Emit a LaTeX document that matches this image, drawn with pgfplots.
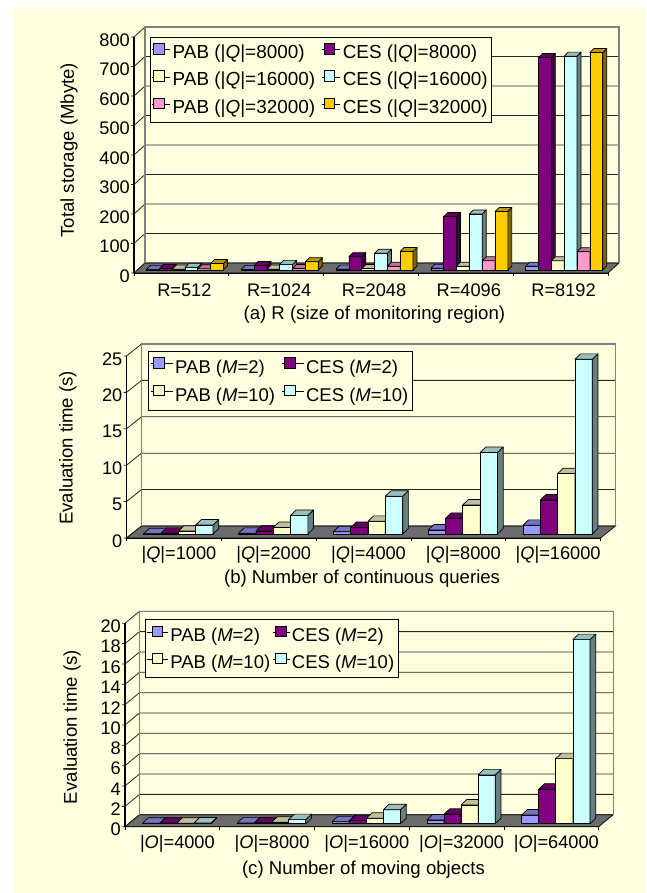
\documentclass[border=0pt]{standalone}
\usepackage{fontspec}
\setmainfont{Liberation Sans}
\usepackage{pgfplots}
\usepackage{pgfplotstable}
\pgfplotsset{compat=1.18}
\definecolor{bgc}{HTML}{FFFFE0}
\definecolor{cblue}{HTML}{9999FF}
\definecolor{cpurple}{HTML}{800080}
\definecolor{ccream}{HTML}{FFFFCC}
\definecolor{ccyan}{HTML}{CCFFFF}
\definecolor{cpink}{HTML}{FF99CC}
\definecolor{cgold}{HTML}{FFCC00}
\newcommand\lab{\fontsize{18.2}{21}\selectfont}
\newcommand\capt{\fontsize{18.6}{21}\selectfont}
\newcommand\lega{\fontsize{18.9}{21}\selectfont}
\newcommand\legb{\fontsize{18.5}{21}\selectfont}
\pgfplotstableread{
x PQa CQa PQb CQb PQc CQc
1 2 5 3 9 4 22
2 2 15 3 19 5 28
3 3 45 5 57 13 63
4 6 181 13 190 31 198
5 13 720 31 725 62 737
}\tblA
\pgfplotstableread{
x PM CM PT CT
1 0.05 0.1 0.4 1.24
2 0.1 0.4 0.9 2.56
3 0.32 0.9 1.75 5.2
4 0.55 2.15 4.0 11.2
5 1.2 4.67 8.3 24.0
}\tblB
\pgfplotstableread{
x PM CM PT CT
1 0.05 0.05 0.05 0.06
2 0.08 0.1 0.15 0.4
3 0.2 0.3 0.53 1.38
4 0.36 0.92 1.84 4.8
5 0.85 3.4 6.4 18.1
}\tblC
\newcommand\BarFaces[5]{%
  \pgfmathsetmacro\xL{#1+((#2-(\nk+1)/2-0.5)*\bw+\ox)/\catw}%
  \pgfmathsetmacro\xR{\xL+\bw/\catw}%
  \pgfmathsetmacro\xLd{\xL+\dpx/\catw}%
  \pgfmathsetmacro\xRd{\xR+\dpx/\catw}%
  \pgfmathsetmacro\yB{\oy/\yu}%
  \pgfmathsetmacro\yBd{\yB+\dpy/\yu}%
  \pgfmathsetmacro\yT{#3+\yB}%
  \pgfmathsetmacro\yTd{\yT+\dpy/\yu}%
  \edef\tmp{\noexpand\addplot[forget plot,fill=#5,draw=black,line width=.7pt,mark=none,line join=round] coordinates {(\xR,\yB)(\xRd,\yBd)(\xRd,\yTd)(\xR,\yT)} --cycle;}\tmp
  \edef\tmp{\noexpand\addplot[forget plot,fill=#4,draw=black,line width=.7pt,mark=none,line join=round] coordinates {(\xL,\yT)(\xR,\yT)(\xRd,\yTd)(\xLd,\yTd)} --cycle;}\tmp
}
% #1 table, #2 column, #3 index, #4 colour, #5 swatch offset, #6 swatch cell width
\newcommand\Series[6]{%
  \pgfmathsetmacro\bs{(#3-(\nk+1)/2)*\bw+\ox}%
  \pgfmathsetmacro\lgx{#5+10.5}%
  \edef\tmp{\noexpand\addplot[ybar,bar width=\bw pt,bar shift=\bs pt,yshift=\oy pt,fill=#4,draw=black,line width=.7pt,
     legend image code/.code={\noexpand\path (0pt,0pt) -- (#6pt,0pt);\noexpand\draw[fill=#4,draw=black,line width=.8pt] (#5pt,-4.5pt) rectangle (\lgx pt,6pt);}]
     table[x=x,y=#2] {\noexpand#1};}\tmp
  \foreach \r in {0,...,4}{%
    \pgfplotstablegetelem{\r}{#2}\of#1%
    \pgfmathtruncatemacro\ii{\r+1}%
    \edef\vv{\pgfplotsretval}%
    \BarFaces{\ii}{#3}{\vv}{#4!75!black}{#4!50!black}%
  }%
}
\newcommand\Frame[5]{% ymax, tick list, back dx, back dy, width
  \fill[bgc] (axis cs:0.5,0) ++(#3pt,#4pt) rectangle ++(#5pt,\hgt pt);
  \fill[gray!85!black,draw=black,line width=.7pt] (axis cs:0.5,0) -- ++(#5pt,0pt) -- ++(#3pt,#4pt) -- ++(-#5pt,0pt) -- cycle;
  \pgfplotsinvokeforeach{#2}{%
    \draw[black!85,line width=.8pt] (axis cs:0.5,##1) ++(-3pt,0pt) -- ++(3pt,0pt) -- ++(#3pt,#4pt) -- ++(#5pt,0pt);
  }
  \draw[gray,line width=1.1pt] (axis cs:0.5,0) ++(#3pt,#4pt) -- ++(0pt,\hgt pt) -- ++(#5pt,0pt) -- ++(0pt,-\hgt pt);
  \draw[black,line width=1.2pt] (axis cs:0.5,0) -- ++(0pt,\hgt pt);
}
\pgfplotsset{
  panel/.style={
    scale only axis, clip=false,
    xmin=0.5,xmax=5.5,ymin=0,
    axis x line*=bottom, axis y line*=left,
    axis line style={line width=1.1pt,-},
    tick align=outside,
    major tick length=0pt, minor tick length=3pt,
    tick style={black,line width=.8pt},
    xtick={1,2,3,4,5},
    minor xtick={0.5,1.5,2.5,3.5,4.5,5.5},
    tick label style={font=\lab},
    label style={font=\capt},
    /pgf/number format/assume math mode=true,
    yticklabel style={inner sep=0pt,xshift=-4pt,yshift=-3pt},
    legend style={anchor=north west,fill=bgc,draw=black,line width=.8pt,font=\legb,
      legend columns=2,legend cell align=left,inner xsep=2pt,inner ysep=6pt,
      nodes={inner sep=2pt}},
  },
}
\begin{document}
\begin{tikzpicture}[x=1pt,y=1pt]
\useasboundingbox (0,0) rectangle (646,893);
\fill[white] (0,0) rectangle (646,893);
\fill[bgc] (13,0) rectangle (646,886);
% ---------- (a)
\def\nk{6}\def\bw{12.83}\def\catw{94.8}\def\ox{3.6}\def\oy{3}\def\dpx{4}\def\dpy{4}\def\yu{0.295}\def\hgt{236}
\begin{axis}[panel,at={(134pt,620pt)},anchor=south west,width=474pt,height=236pt,
  ymax=800,ytick={0,100,...,800},
  xticklabel style={inner sep=0pt,yshift=-11pt,xshift=3pt},
  xticklabels={R=512,R=1024,R=2048,R=4096,R=8192},
  xlabel={(a) R (size of monitoring region)},
  ylabel={Total storage (Mbyte)},
  xlabel style={at={(axis description cs:0.507,-0.178)},anchor=center},
  ylabel style={at={(axis description cs:-0.137,0.52)},anchor=center},
  legend style={at={(axis description cs:0.033,1.0013)},font=\lega,
    /tikz/every even column/.append style={column sep=5pt},
    row sep=8pt},
  legend entries={{PAB (|\textit{Q}|=8000)},{CES (|\textit{Q}|=8000)},{PAB (|\textit{Q}|=16000)},{CES (|\textit{Q}|=16000)},{PAB (|\textit{Q}|=32000)},{CES (|\textit{Q}|=32000)}},
]
\Frame{800}{0,100,200,300,400,500,600,700,800}{11}{10}{474}
\Series{\tblA}{PQa}{1}{cblue}{1.5}{18}
\Series{\tblA}{CQa}{2}{cpurple}{1.5}{18}
\Series{\tblA}{PQb}{3}{ccream}{1.5}{18}
\Series{\tblA}{CQb}{4}{ccyan}{1.5}{18}
\Series{\tblA}{PQc}{5}{cpink}{1.5}{18}
\Series{\tblA}{CQc}{6}{cgold}{1.5}{18}
\end{axis}
% ---------- (b)
\def\nk{4}\def\bw{17.33}\def\catw{94.8}\def\ox{4.5}\def\oy{4}\def\dpx{5.7}\def\dpy{5.4}\def\yu{7.28}\def\hgt{182}
\begin{axis}[panel,at={(126.5pt,355pt)},anchor=south west,width=474pt,height=182pt,
  ymax=25,ytick={0,5,...,25},
  xticklabel style={inner sep=0pt,yshift=-8pt,xshift=5pt},
  xticklabels={{|\textit{Q}|=1000},{|\textit{Q}|=2000},{|\textit{Q}|=4000},{|\textit{Q}|=8000},{|\textit{Q}|=16000}},
  xlabel={(b) Number of continuous queries},
  ylabel={Evaluation time (s)},
  xlabel style={at={(axis description cs:0.497,-0.225)},anchor=center},
  ylabel style={at={(axis description cs:-0.124,0.495)},anchor=center},
  legend style={at={(axis description cs:0.0456,1.029)},
    /tikz/every even column/.append style={column sep=4.3pt},
    row sep=8pt},
  legend entries={{PAB (\textit{M}=2)},{CES (\textit{M}=2)},{PAB (\textit{M}=10)},{CES (\textit{M}=10)\hspace{8pt}}},
]
\Frame{25}{0,5,10,15,20,25}{15}{12}{474}
\Series{\tblB}{PM}{1}{cblue}{2.7}{22}
\Series{\tblB}{CM}{2}{cpurple}{2.7}{22}
\Series{\tblB}{PT}{3}{ccream}{2.7}{22}
\Series{\tblB}{CT}{4}{ccyan}{2.7}{22}
\end{axis}
% ---------- (c)
\def\nk{4}\def\bw{17.08}\def\catw{94.74}\def\ox{4.5}\def\oy{3}\def\dpx{5.7}\def\dpy{5.5}\def\yu{10.17}\def\hgt{203.4}
\begin{axis}[panel,at={(125pt,66.3pt)},anchor=south west,width=473.7pt,height=203.4pt,
  ymax=20,ytick={0,2,...,20},
  xticklabel style={inner sep=0pt,yshift=-8pt,xshift=5pt},
  xticklabels={{|\textit{O}|=4000},{|\textit{O}|=8000},{|\textit{O}|=16000},{|\textit{O}|=32000},{|\textit{O}|=64000}},
  xlabel={(c) Number of moving objects},
  ylabel={Evaluation time (s)},
  xlabel style={at={(axis description cs:0.5035,-0.21)},anchor=center},
  ylabel style={at={(axis description cs:-0.112,0.49)},anchor=center},
  legend style={at={(axis description cs:0.0416,1.0197)},
    /tikz/every even column/.append style={column sep=0pt},
    row sep=8pt},
  legend entries={{PAB (\textit{M}=2)},{CES (\textit{M}=2)},{PAB (\textit{M}=10)},{CES (\textit{M}=10)}},
]
\Frame{20}{0,2,4,6,8,10,12,14,16,18,20}{14.5}{12}{473.7}
\Series{\tblC}{PM}{1}{cblue}{4.6}{20.5}
\Series{\tblC}{CM}{2}{cpurple}{3}{17}
\Series{\tblC}{PT}{3}{ccream}{4.6}{20.5}
\Series{\tblC}{CT}{4}{ccyan}{3}{17}
\end{axis}
\end{tikzpicture}
\end{document}
